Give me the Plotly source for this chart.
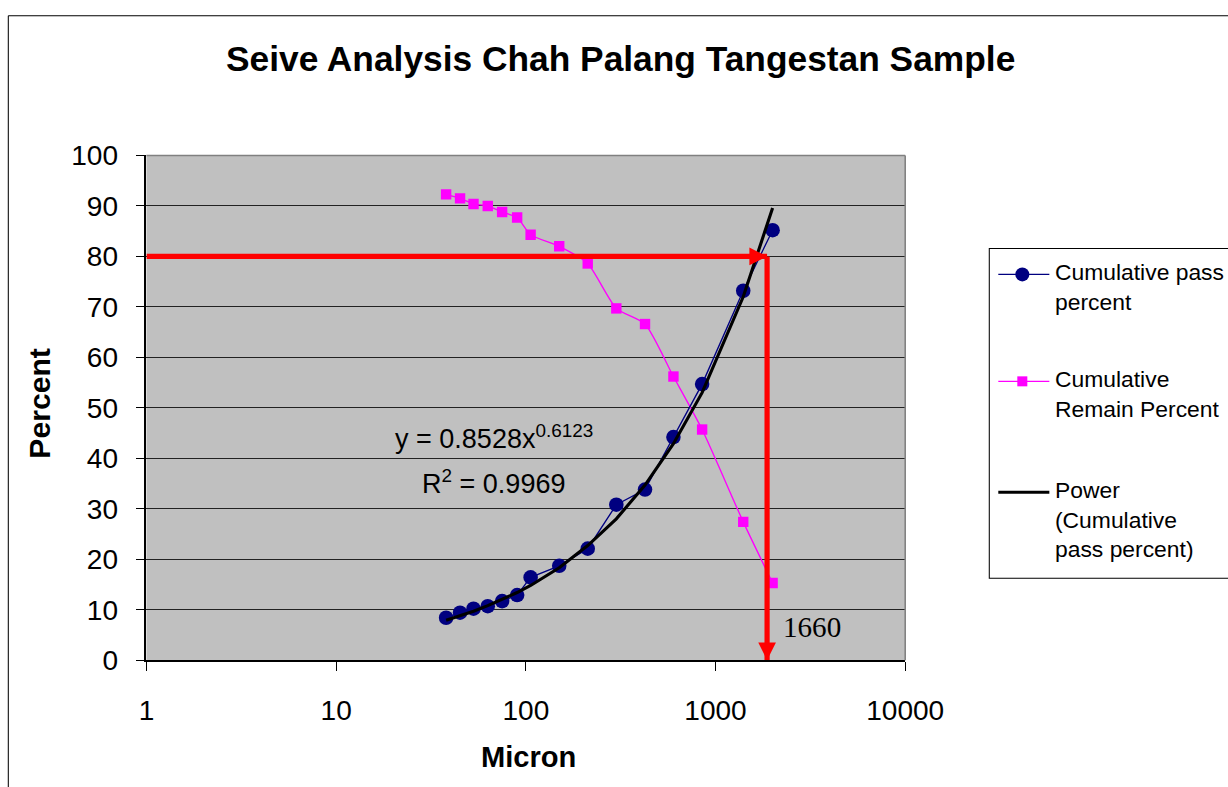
import plotly.graph_objects as go

# ---- data ----
sizes_micron = [38, 45, 53, 63, 75, 90, 106, 150, 212, 300, 425, 600, 850, 1400, 2000]
cum_pass = [8.4, 9.4, 10.2, 10.7, 11.7, 12.9, 16.4, 18.7, 22.1, 30.8, 33.8, 44.2, 54.7, 73.2, 85.2]
cum_remain = [92.3, 91.5, 90.4, 90.0, 88.8, 87.7, 84.3, 82.0, 78.6, 69.7, 66.6, 56.2, 45.7, 27.4, 15.3]
power_trend = [7.9, 8.8, 9.7, 10.8, 12.0, 13.4, 14.8, 18.3, 22.7, 28.0, 34.7, 42.9, 53.0, 72.0, 89.6]

x_tickvals = [1, 10, 100, 1000, 10000]
x_ticktext = ["1", "10", "100", "1000", "10000"]

target_percent = 80
cut_size = 1870
axis_min_size = 1
cut_label = "1660"
eq_text = "y = 0.8528x<sup>0.6123</sup>"
r2_text = "R<sup>2</sup> = 0.9969"

REF_W, REF_H = 1228, 787
S = 0.962              # observed photo scale
OXP, OYP = 8, 15       # observed page offset of the figure (body margin removed)
W, H = round(REF_W / S - OXP), round(REF_H / S - OYP)
FONT = "Liberation Sans, Arial, sans-serif"


def k(v):
    return v / S


def px(x):
    return (x / S - OXP) / W


def py(y):
    return 1 - (y / S - OYP) / H


fig = go.Figure()

fig.add_trace(go.Scatter(
    x=sizes_micron, y=cum_remain, mode="lines+markers",
    name="Cumulative Remain Percent",
    line=dict(color="#FF00FF", width=k(1.3), shape="spline", smoothing=0.6),
    marker=dict(symbol="square", size=k(10), color="#FF00FF"),
))
fig.add_trace(go.Scatter(
    x=sizes_micron, y=cum_pass, mode="lines+markers",
    name="Cumulative pass percent",
    line=dict(color="#000080", width=k(1.3)),
    marker=dict(symbol="circle", size=k(14), color="#000080"),
))
fig.add_trace(go.Scatter(
    x=sizes_micron, y=power_trend, mode="lines",
    name="Power (Cumulative pass percent)",
    line=dict(color="#000000", width=k(3)),
))

# red guide lines with arrow heads
fig.add_trace(go.Scatter(
    x=[axis_min_size, cut_size], y=[target_percent, target_percent], mode="lines",
    line=dict(color="#FF0000", width=k(5)), cliponaxis=False, hoverinfo="skip",
))
fig.add_trace(go.Scatter(
    x=[cut_size, cut_size], y=[target_percent, 0], mode="lines",
    line=dict(color="#FF0000", width=k(5)), cliponaxis=False, hoverinfo="skip",
))
fig.add_trace(go.Scatter(
    x=[cut_size, cut_size], y=[target_percent, 0], mode="markers",
    marker=dict(symbol=["arrow-right", "arrow-down"], size=k(17), color="#FF0000",
                line=dict(width=0)),
    cliponaxis=False, hoverinfo="skip",
))

annotations = []
shapes = []

annotations.append(dict(
    x=px(780), y=py(627), xref="paper", yref="paper", xanchor="left",
    yanchor="middle", text=cut_label, showarrow=False,
    font=dict(family="Liberation Serif, Times New Roman, serif", size=k(28), color="black"),
))

# title and axis titles
annotations.append(dict(
    x=px(620), y=py(58), xref="paper", yref="paper", text="<b>Seive Analysis Chah Palang Tangestan Sample</b>",
    showarrow=False, xanchor="center", yanchor="middle",
    font=dict(family=FONT, size=k(34), color="black"),
))
annotations.append(dict(
    x=px(528), y=py(757), xref="paper", yref="paper", text="<b>Micron</b>",
    showarrow=False, xanchor="center", yanchor="middle",
    font=dict(family=FONT, size=k(28), color="black"),
))
annotations.append(dict(
    x=px(39), y=py(403), xref="paper", yref="paper", text="<b>Percent</b>",
    showarrow=False, xanchor="center", yanchor="middle", textangle=-90,
    font=dict(family=FONT, size=k(29), color="black"),
))

# trendline equation
annotations.append(dict(
    x=px(392), y=py(437), xref="paper", yref="paper", text=eq_text,
    showarrow=False, xanchor="left", yanchor="middle",
    font=dict(family=FONT, size=k(26), color="black"),
))
annotations.append(dict(
    x=px(419), y=py(482), xref="paper", yref="paper", text=r2_text,
    showarrow=False, xanchor="left", yanchor="middle",
    font=dict(family=FONT, size=k(26), color="black"),
))

# outer chart border (left and top visible)
top_y = min(py(8), 0.999)
shapes.append(dict(type="line", xref="paper", yref="paper",
                   x0=px(8), x1=px(8), y0=0, y1=top_y,
                   line=dict(color="black", width=k(1))))
shapes.append(dict(type="line", xref="paper", yref="paper",
                   x0=px(8), x1=1, y0=top_y, y1=top_y,
                   line=dict(color="black", width=k(1))))
# plot-area top/right border (gray)
shapes.append(dict(type="line", xref="x domain", yref="y domain", x0=0, x1=1, y0=1, y1=1,
                   line=dict(color="#808080", width=k(1.5))))
shapes.append(dict(type="line", xref="x domain", yref="y domain", x0=1, x1=1, y0=0, y1=1,
                   line=dict(color="#808080", width=k(1.5))))

# manual legend
shapes.append(dict(type="rect", xref="paper", yref="paper",
                   x0=px(988), x1=px(1227), y0=py(578), y1=py(248),
                   line=dict(color="black", width=k(1)), fillcolor="white"))
legend_items = [
    ("Cumulative pass<br>percent", 274, "#000080", 1.3, "circle"),
    ("Cumulative<br>Remain Percent", 381, "#FF00FF", 1.3, "square"),
    ("Power<br>(Cumulative<br>pass percent)", 492, "#000000", 3, None),
]
for label, yc, col, lw, sym in legend_items:
    shapes.append(dict(type="line", xref="paper", yref="paper",
                       x0=px(997), x1=px(1048), y0=py(yc), y1=py(yc),
                       line=dict(color=col, width=k(lw))))
    if sym == "circle":
        r = 7
        shapes.append(dict(type="circle", xref="paper", yref="paper",
                           x0=px(1021 - r), x1=px(1021 + r), y0=py(yc + r), y1=py(yc - r),
                           line=dict(color=col, width=0), fillcolor=col))
    elif sym == "square":
        r = 5
        shapes.append(dict(type="rect", xref="paper", yref="paper",
                           x0=px(1021 - r), x1=px(1021 + r), y0=py(yc + r), y1=py(yc - r),
                           line=dict(color=col, width=0), fillcolor=col))
    annotations.append(dict(
        x=px(1052), y=py(yc - 17), xref="paper", yref="paper", text=label,
        showarrow=False, xanchor="left", yanchor="top", align="left",
        font=dict(family=FONT, size=k(22), color="black"),
    ))

fig.update_layout(
    width=W, height=H,
    margin=dict(l=0, r=0, t=0, b=0),
    paper_bgcolor="white",
    plot_bgcolor="#C0C0C0",
    showlegend=False,
    font=dict(family=FONT, color="black"),
    annotations=annotations,
    shapes=shapes,
    xaxis=dict(
        type="log", range=[0, 4], domain=[px(146), px(904)],
        tickvals=x_tickvals, ticktext=x_ticktext,
        showgrid=False, zeroline=False,
        showline=True, linecolor="black", linewidth=k(1.5),
        ticks="outside", ticklen=round(k(9)), tickcolor="black", tickwidth=k(1),
        tickfont=dict(family=FONT, size=k(27), color="black"),
        ticklabelstandoff=round(k(14)),
    ),
    yaxis=dict(
        range=[0, 100], domain=[py(660), py(155)],
        dtick=10, tick0=0,
        showgrid=True, gridcolor="#222222", gridwidth=k(1),
        zeroline=False,
        showline=True, linecolor="black", linewidth=k(1.5),
        ticks="outside", ticklen=round(k(9)), tickcolor="black", tickwidth=k(1),
        tickfont=dict(family=FONT, size=k(27), color="black"),
        ticklabelstandoff=round(k(12)),
    ),
)

fig.write_html(
    "out.html",
    config={"displayModeBar": False},
    post_script="document.body.style.margin='0';document.body.style.overflow='hidden';",
)
